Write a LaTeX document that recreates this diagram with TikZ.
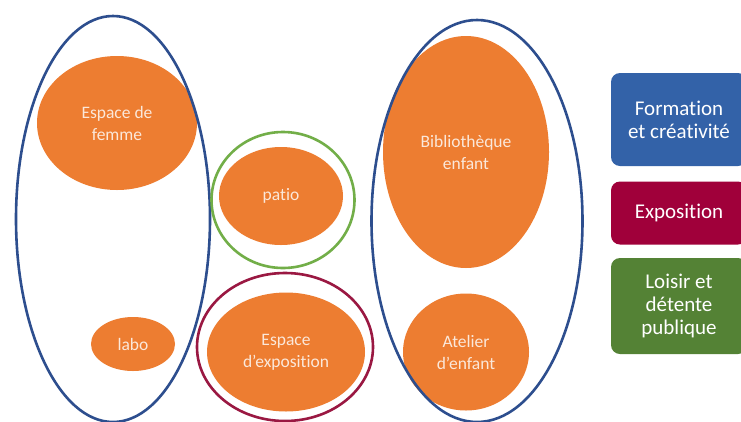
\documentclass[tikz,border=0pt]{standalone}
\usepackage{fontspec}
\setmainfont{Carlito}[Ligatures=NoCommon]
\usetikzlibrary{shapes.geometric}
\definecolor{orng}{HTML}{ED7D31}
\definecolor{txtc}{HTML}{FBE8DA}
\definecolor{bluel}{HTML}{2D4E8E}
\definecolor{blueb}{HTML}{3362A8}
\definecolor{redl}{HTML}{9A1842}
\definecolor{redb}{HTML}{A0003A}
\definecolor{greenl}{HTML}{72AE48}
\definecolor{greenb}{HTML}{548235}
\tikzset{
  room/.style={ellipse, fill=orng, inner sep=0pt, text=txtc, align=center,
    font=\fontsize{17.5}{22}\selectfont},
  zone/.style={ellipse, draw=#1, line width=2.6pt, inner sep=0pt},
  legend/.style={rectangle, rounded corners=9pt, fill=#1, inner sep=0pt,
    text=white, align=center, font=\fontsize{21}{23}\selectfont}
}
\begin{document}
\begin{tikzpicture}[x=1pt,y=-1pt]
\useasboundingbox (0,0) rectangle (741,421);
\clip (0,0) rectangle (741,421);
\fill[white] (0,0) rectangle (741,421);
% rooms
\node[room, minimum width=160pt, minimum height=134pt] (femme) at (117,123) {Espace de\\femme};
\node[room, minimum width=84pt, minimum height=54pt] (labo) at (133,344) {labo};
\node[room, minimum width=124pt, minimum height=98pt] (patio) at (281,196) {patio};
\node[room, minimum width=158pt, minimum height=119pt] (expo) at (286,352) {Espace\\d’exposition};
\node[room, minimum width=166pt, minimum height=232pt] (biblio) at (466,152) {Biblioth\`eque\\enfant};
\node[room, minimum width=126pt, minimum height=117pt] (atelier) at (466,352) {Atelier\\d’enfant};
% zones
\node[zone=bluel, minimum width=194pt, minimum height=406pt] (zleft) at (113,219) {};
\node[zone=greenl, minimum width=143pt, minimum height=136pt] (zpatio) at (283,200) {};
\node[zone=redl, minimum width=176pt, minimum height=148pt] (zexpo) at (285,347) {};
\node[zone=bluel, minimum width=211pt, minimum height=402pt] (zright) at (477,221) {};
% legend
\node[legend=blueb, minimum width=136pt, minimum height=93pt] (lform) at (679,119.5) {Formation\\et créativité};
\node[legend=redb, minimum width=136pt, minimum height=63pt] (lexpo) at (679,213) {Exposition};
\node[legend=greenb, minimum width=136pt, minimum height=96pt] (lloisir) at (679,306) {Loisir et\\détente\\publique};
\end{tikzpicture}
\end{document}
